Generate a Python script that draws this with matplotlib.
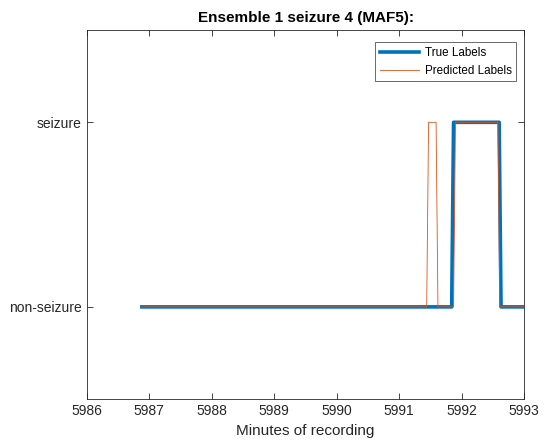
import matplotlib
matplotlib.use("Agg")
import matplotlib.pyplot as plt

plt.rcParams['font.family'] = ['Liberation Sans', 'DejaVu Sans']

true_x = [5986.88, 5991.84, 5991.87, 5992.60, 5992.63, 5993.2]
true_y = [0, 0, 1, 1, 0, 0]
pred_x = [5986.88, 5991.44, 5991.47, 5991.59, 5991.62, 5991.87, 5991.90, 5992.58, 5992.61, 5993.2]
pred_y = [0, 0, 1, 1, 0, 0, 1, 1, 0, 0]
ytick_vals = [0, 1]
ytick_labels = ['non-seizure', 'seizure']
xtick_vals = [5986, 5987, 5988, 5989, 5990, 5991, 5992, 5993]

fig = plt.figure(figsize=(5.5, 4.48), dpi=100)
ax = fig.add_axes([0.158, 0.109, 0.795, 0.824])
ax.plot(true_x, true_y, color='#0072BD', lw=2.6, label='True Labels', zorder=2)
ax.plot(pred_x, pred_y, color='#D95319', lw=0.6, label='Predicted Labels', zorder=3)
ax.set_xlim(5986, 5993)
ax.set_ylim(-0.5, 1.5)
ax.set_xticks(xtick_vals)
ax.set_xticklabels([str(v) for v in xtick_vals])
ax.set_yticks(ytick_vals)
ax.set_yticklabels(ytick_labels)
ax.tick_params(direction='in', length=4, width=0.6, colors='#262626', labelsize=10, top=True, right=True, labeltop=False, labelright=False)
for s in ax.spines.values():
    s.set_color('#262626')
    s.set_linewidth(0.6)
ax.set_xlabel('Minutes of recording', fontsize=11, color='#262626')
ax.set_title('Ensemble 1 seizure 4 (MAF5):', fontsize=11, fontweight='bold', color='black')
leg = ax.legend(loc='upper right', fontsize=8.4, frameon=True, fancybox=False, borderpad=0.4, handlelength=3.4, handletextpad=0.45, labelspacing=0.5, borderaxespad=0.0, bbox_to_anchor=(0.982, 0.967))
leg.get_frame().set_edgecolor('#262626')
leg.get_frame().set_linewidth(0.6)
fig.savefig('out.png', dpi=100)
